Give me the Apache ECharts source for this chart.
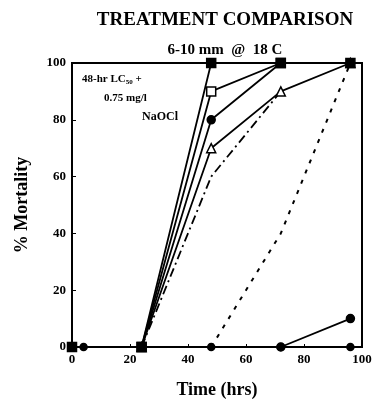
<!DOCTYPE html>
<html><head><meta charset="utf-8">
<script src="https://cdn.jsdelivr.net/npm/echarts@6/dist/echarts.min.js"></script>
<style>html,body{margin:0;padding:0;background:#fff}#c{width:376px;height:409px}</style>
</head><body><div id="c"></div>
<script>
// Data (hours, % mortality)
const xTicks = [0, 20, 40, 60, 80, 100];
const yTicks = [0, 20, 40, 60, 80, 100];
const sqFilledX = [0, 24, 48, 72, 96];
const sqFilledY = [0, 0, 100, 100, 100];
const sqOpenX = [24, 48, 72];
const sqOpenY = [0, 90, 100];
const circFilledX = [24, 48, 72];
const circFilledY = [0, 80, 100];
const triOpenX = [24, 48, 72, 96];
const triOpenY = [0, 70, 90, 100];
const dashDotX = [24, 48, 72];
const dashDotY = [0, 60, 90];
const dottedX = [48, 72, 96];
const dottedY = [0, 40, 100];
const controlX = [0, 4, 24, 48, 72, 96];
const controlY = [0, 0, 0, 0, 0, 0];
const lowX = [72, 96];
const lowY = [0, 10];

const pts = (xs, ys) => xs.map((x, i) => [x, ys[i]]);
const font = '"Liberation Serif","DejaVu Serif",serif';

const chart = echarts.init(document.getElementById('c'), null, {renderer: 'canvas'});
const lineBase = (name, xs, ys, symbol, size, fill, ltype, lw) => ({
  name, type: 'line', data: pts(xs, ys), symbol, symbolSize: size,
  showSymbol: symbol !== 'none',
  itemStyle: {color: fill, borderColor: '#000', borderWidth: 1.5},
  lineStyle: {color: '#000', width: lw || 1.8, type: ltype || 'solid'},
  z: 3, animation: false
});
chart.setOption({
  animation: false,
  title: [
    {text: 'TREATMENT COMPARISON', left: 220, top: 6, textAlign: 'center',
     textStyle: {fontFamily: font, fontWeight: 'bold', fontSize: 19, color: '#000'}},
    {text: '6-10 mm  @  18 C', left: 220, top: 38, textAlign: 'center',
     textStyle: {fontFamily: font, fontWeight: 'bold', fontSize: 15, color: '#000'}}
  ],
  grid: {left: 72, right: 14, top: 63, bottom: 62, show: true, borderColor: '#000', borderWidth: 2},
  xAxis: {
    type: 'value', min: 0, max: 100, interval: 20,
    name: 'Time (hrs)', nameLocation: 'middle', nameGap: 34,
    nameTextStyle: {fontFamily: font, fontWeight: 'bold', fontSize: 18, color: '#000'},
    axisLine: {show: true, lineStyle: {color: '#000', width: 2}},
    axisTick: {show: true, inside: true, length: 3, lineStyle: {color: '#000'}},
    axisLabel: {fontFamily: font, fontWeight: 'bold', fontSize: 13, color: '#000', margin: 6,
      formatter: v => xTicks.includes(v) ? String(v) : ''},
    splitLine: {show: false}
  },
  yAxis: {
    type: 'value', min: 0, max: 100, interval: 20,
    name: '% Mortality', nameLocation: 'middle', nameGap: 41, nameRotate: 90,
    nameTextStyle: {fontFamily: font, fontWeight: 'bold', fontSize: 18, color: '#000'},
    axisLine: {show: true, lineStyle: {color: '#000', width: 2}},
    axisTick: {show: true, inside: true, length: 4, lineStyle: {color: '#000'}},
    axisLabel: {fontFamily: font, fontWeight: 'bold', fontSize: 13, color: '#000', margin: 6,
      formatter: v => yTicks.includes(v) ? String(v) : ''},
    splitLine: {show: false}
  },
  graphic: [
    {type: 'text', left: 82, top: 74, style: {
      rich: {a: {fontFamily: font, fontWeight: 'bold', fontSize: 11, fill: '#000'},
             s: {fontFamily: font, fontWeight: 'bold', fontSize: 7, fill: '#000', padding: [6,0,0,0]}},
      text: '{a|48-hr LC}{s|50}{a| +}'}},
    {type: 'text', left: 104, top: 93, style: {text: '0.75 mg/l', fontFamily: font, fontWeight: 'bold', fontSize: 11, fill: '#000'}},
    {type: 'text', left: 142, top: 111, style: {text: 'NaOCl', fontFamily: font, fontWeight: 'bold', fontSize: 12, fill: '#000'}}
  ],
  series: [
    lineBase('dotted', dottedX, dottedY, 'none', 0, '#000', [4, 7], 2),
    lineBase('dashdot', dashDotX, dashDotY, 'none', 0, '#000', [9, 4, 2, 4], 1.8),
    lineBase('control', controlX, controlY, 'circle', 7, '#000', 'solid', 1.8),
    lineBase('low', lowX, lowY, 'circle', 8, '#000', 'solid', 1.8),
    lineBase('triOpen', triOpenX, triOpenY, 'triangle', 9, '#fff', 'solid', 1.8),
    lineBase('circFilled', circFilledX, circFilledY, 'circle', 8, '#000', 'solid', 1.8),
    lineBase('sqOpen', sqOpenX, sqOpenY, 'rect', 9, '#fff', 'solid', 1.8),
    lineBase('sqFilled', sqFilledX, sqFilledY, 'rect', 9, '#000', 'solid', 1.8)
  ]
});
</script></body></html>
